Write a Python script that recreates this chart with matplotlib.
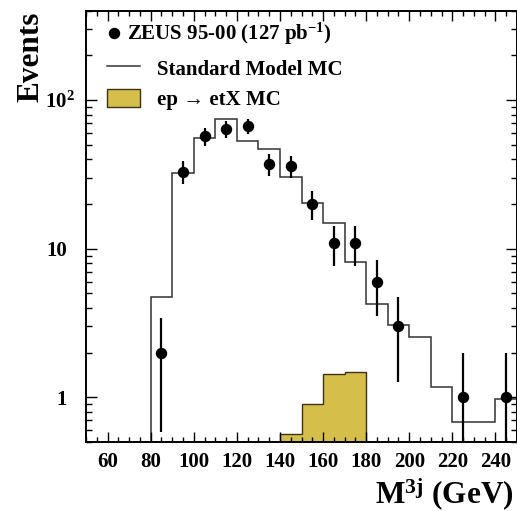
import numpy as np
import matplotlib
matplotlib.use("Agg")
import matplotlib.pyplot as plt
from matplotlib.ticker import MultipleLocator, LogLocator, FixedFormatter, FixedLocator, NullFormatter

plt.rcParams['font.family'] = ['Liberation Serif', 'DejaVu Serif']
plt.rcParams['font.weight'] = 'bold'
plt.rcParams['mathtext.fontset'] = 'custom'
plt.rcParams['mathtext.rm'] = 'Liberation Serif:bold'
plt.rcParams['mathtext.it'] = 'Liberation Serif:bold'
plt.rcParams['mathtext.bf'] = 'Liberation Serif:bold'
plt.rcParams['mathtext.default'] = 'rm'

# Three-jet invariant mass, 10 GeV bins
sm_edges = np.arange(80, 251, 10)
sm_values = [4.75, 32.1, 55.8, 74.5, 53.3, 47.1, 30.2, 20.2, 14.9, 8.1,
             4.23, 3.07, 2.56, 1.18, 0.68, 0.68, 0.975]

sig_edges = np.arange(140, 181, 10)
sig_values = [0.57, 0.907, 1.44, 1.47]

data_mass = [85, 95, 105, 115, 125, 135, 145, 155, 165, 175, 185, 195, 225, 245]
data_events = [2, 33, 57, 64, 67, 37, 36, 20, 11, 11, 6, 3, 1, 1]

x_ticks = [60, 80, 100, 120, 140, 160, 180, 200, 220, 240]
y_ticks = [1, 10, 100]
y_ticklabels = ['1', '10', '10$^{2}$']

W, H = 517, 511
fig = plt.figure(figsize=(W / 100, H / 100), dpi=100)
ax = fig.add_axes([86 / W, 69 / H, 431 / W, 431.3 / H])
ax.set_yscale('log')
ax.set_xlim(50, 250)
ax.set_ylim(0.5, 400)

sig = ax.stairs(sig_values, sig_edges, baseline=1e-3, fill=True,
                facecolor='#d5bf4a', edgecolor='#3b3418', lw=1.0,
                label='ep → etX MC')
sm = ax.stairs(sm_values, sm_edges, baseline=1e-3, color='#333333', lw=1.1,
               label='Standard Model MC')

n = np.array(data_events, dtype=float)
err = ax.errorbar(data_mass, n, yerr=np.sqrt(n), fmt='o', color='black',
                  ms=7.2, elinewidth=1.6, capsize=0,
                  label='ZEUS 95-00 (127 pb$^{-1}$)')

# Axes frame and ticks on all four sides
for s in ax.spines.values():
    s.set_linewidth(1.4)
ax.xaxis.set_major_locator(FixedLocator(x_ticks))
ax.xaxis.set_minor_locator(MultipleLocator(5))
ax.yaxis.set_major_locator(FixedLocator(y_ticks))
ax.yaxis.set_major_formatter(FixedFormatter(y_ticklabels))
ax.yaxis.set_minor_locator(LogLocator(base=10, subs=np.arange(2, 10)))
ax.yaxis.set_minor_formatter(NullFormatter())
ax.tick_params(which='both', direction='in', top=True, right=True, width=1.0,
               labelsize=15)
ax.tick_params(axis='x', which='major', length=7.2, pad=7)
ax.tick_params(axis='x', which='minor', length=3.6)
ax.tick_params(axis='y', which='major', length=7.7, pad=13.7)
ax.tick_params(axis='y', which='minor', length=4.0)
for lab in ax.get_xticklabels() + ax.get_yticklabels():
    lab.set_fontweight('bold')

ax.set_xlabel('M$^{3j}$ (GeV)', fontsize=22.5, fontweight='bold', loc='right')
ax.xaxis.set_label_coords(0.993, -0.079)
ax.set_ylabel('Events', fontsize=22.5, fontweight='bold', loc='top')
ax.yaxis.set_label_coords(-0.093, 0.997)

# Data entry shows only the marker
leg1 = ax.legend([err.lines[0]], [err.get_label()], loc='upper left',
                 bbox_to_anchor=(0.047, 0.976), frameon=False, borderpad=0,
                 borderaxespad=0, handlelength=0.7, handletextpad=0.3,
                 prop={'size': 15, 'weight': 'bold'})
ax.add_artist(leg1)
ax.legend([sm, sig], [sm.get_label(), sig.get_label()], loc='upper left',
          bbox_to_anchor=(0.0487, 0.888), frameon=False, borderpad=0,
          borderaxespad=0, handlelength=1.59, handleheight=0.91,
          handletextpad=0.8, labelspacing=0.45,
          prop={'size': 15, 'weight': 'bold'})

# Let the "10^2" label hang to the right like its superscript
fig.canvas.draw()
for t in ax.yaxis.get_major_ticks():
    if np.isclose(t.get_loc(), 100):
        t.set_pad(7.9)

fig.savefig('out.png', dpi=100)
